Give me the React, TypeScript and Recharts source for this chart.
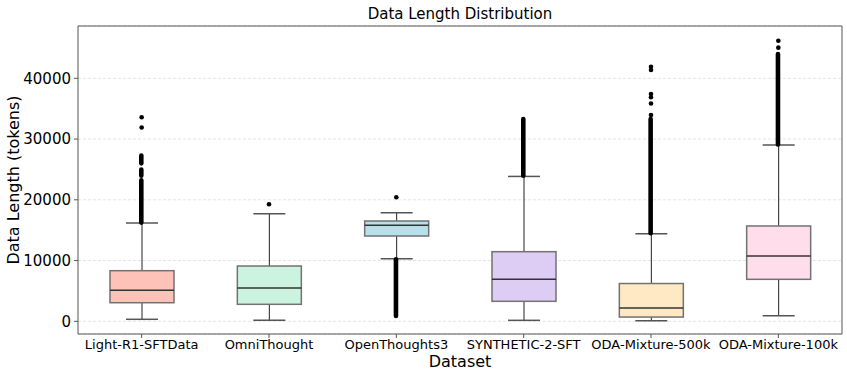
import React from 'react';
import { ComposedChart, Bar, Line, XAxis, YAxis, CartesianGrid, ReferenceArea } from 'recharts';

const categories = ['Light-R1-SFTData', 'OmniThought', 'OpenThoughts3', 'SYNTHETIC-2-SFT', 'ODA-Mixture-500k', 'ODA-Mixture-100k'];
const whiskerLow = [330, 160, 10300, 160, 100, 920];
const q1 = [3060, 2800, 14040, 3290, 700, 6910];
const median = [5100, 5480, 15800, 6910, 2200, 10750];
const q3 = [8330, 9100, 16510, 11460, 6220, 15690];
const whiskerHigh = [16180, 17710, 17880, 23850, 14420, 29020];
const denseOutliersA = [[16250, 23200], null, [870, 10200], [23950, 33300], [14500, 33300], [29100, 44000]];
const denseOutliersB = [[23950, 25000], null, null, null, null, null];
const denseOutliersC = [[26000, 27300], null, null, null, null, null];
const sparseOutliers = [[31900, 33600], [19260], [20410], [], [33960, 35850, 36870, 37410, 41370, 41910], [45050, 46190]];
const yTicks = [0, 10000, 20000, 30000, 40000];
const yDomain = [-2090, 48610];

const BOX_COLORS = ['#FFC2B8', '#CCF2E0', '#B8E0EA', '#DDCDF5', '#FFE9C4', '#FFDDEA'];
const FONT = '"DejaVu Sans", sans-serif';

const data = categories.map((name, i) => {
  const row: any = {
    name,
    box: [q1[i], q3[i]],
    median: median[i],
    whisker: [whiskerLow[i], whiskerHigh[i]],
    denseA: denseOutliersA[i] ?? undefined,
    denseB: denseOutliersB[i] ?? undefined,
    denseC: denseOutliersC[i] ?? undefined,
  };
  for (let k = 0; k < 6; k++) row['o' + k] = sparseOutliers[i][k] ?? null;
  return row;
});

const ok = (p: any) => [p.x, p.y, p.width, p.height].every((v) => Number.isFinite(v));

const BoxShape = (p: any) => {
  if (!ok(p) || !p.payload?.box) return <g />;
  const top = Math.min(p.y, p.y + p.height);
  const h = Math.abs(p.height);
  const [lo, hi] = p.payload.box;
  const my = top + (h * (hi - p.payload.median)) / (hi - lo);
  return (
    <g>
      <rect x={p.x} y={top} width={p.width} height={h} fill={BOX_COLORS[p.index]} stroke="#727272" strokeWidth={1.5} />
      <line x1={p.x} x2={p.x + p.width} y1={my} y2={my} stroke="#333" strokeWidth={1.5} />
    </g>
  );
};

const WhiskerShape = (p: any) => {
  if (!ok(p)) return <g />;
  const top = Math.min(p.y, p.y + p.height);
  const h = Math.abs(p.height);
  const cx = p.x + p.width / 2;
  return (
    <g>
      <line x1={cx} x2={cx} y1={top} y2={top + h} stroke="#222" strokeWidth={1} />
      <line x1={p.x} x2={p.x + p.width} y1={top} y2={top} stroke="#555" strokeWidth={1.5} />
      <line x1={p.x} x2={p.x + p.width} y1={top + h} y2={top + h} stroke="#555" strokeWidth={1.5} />
    </g>
  );
};

const DenseShape = (p: any) => {
  if (!ok(p) || p.height === 0) return <g />;
  const top = Math.min(p.y, p.y + p.height);
  const h = Math.abs(p.height);
  const r = p.width / 2;
  return <rect x={p.x} y={top - r} width={p.width} height={h + 2 * r} rx={r} ry={r} fill="#000" />;
};

const YLabel = (props: any) => {
  const vb = props.viewBox;
  const x = 13;
  const y = vb.y + vb.height / 2;
  return (
    <text x={x} y={y} transform={`rotate(-90, ${x}, ${y})`} textAnchor="middle" dy={5.7} fontSize={16} fill="#000" fontFamily={FONT}>
      Data Length (tokens)
    </text>
  );
};

export default function App() {
  return (
    <div style={{ position: 'absolute', left: 0, top: 0, width: 847, height: 375, background: '#fff' }}>
      <ComposedChart width={847} height={375} data={data} margin={{ top: 26, right: 5, bottom: 0, left: 0 }} style={{ fontFamily: FONT }}>
        <CartesianGrid vertical={false} stroke="#e4e4e4" strokeDasharray="3 2" />
        <XAxis
          dataKey="name"
          type="category"
          height={41}
          axisLine={false}
          tickLine={{ stroke: '#555' }}
          tickSize={4}
          tickMargin={2}
          interval={0}
          tick={{ fontSize: 13, fill: '#000', fontFamily: FONT }}
          label={{ value: 'Dataset', position: 'insideBottom', offset: 8, fontSize: 16, fill: '#000', fontFamily: FONT }}
        />
        <XAxis xAxisId="w" dataKey="name" type="category" hide />
        <XAxis xAxisId="dA" dataKey="name" type="category" hide />
        <XAxis xAxisId="dB" dataKey="name" type="category" hide />
        <XAxis xAxisId="dC" dataKey="name" type="category" hide />
        <YAxis
          type="number"
          domain={yDomain}
          ticks={yTicks}
          allowDataOverflow
          width={78}
          axisLine={false}
          tickLine={{ stroke: '#555' }}
          tickSize={4}
          tickMargin={3}
          tick={{ fontSize: 15, fill: '#000', fontFamily: FONT }}
          label={<YLabel />}
        />
        <Bar xAxisId="w" dataKey="whisker" barSize={32} shape={<WhiskerShape />} isAnimationActive={false} />
        <Bar dataKey="box" barSize={64} shape={<BoxShape />} isAnimationActive={false} />
        <Bar xAxisId="dA" dataKey="denseA" barSize={4.6} shape={<DenseShape />} isAnimationActive={false} />
        <Bar xAxisId="dB" dataKey="denseB" barSize={4.6} shape={<DenseShape />} isAnimationActive={false} />
        <Bar xAxisId="dC" dataKey="denseC" barSize={4.6} shape={<DenseShape />} isAnimationActive={false} />
        {[0, 1, 2, 3, 4, 5].map((k) => (
          <Line
            key={k}
            dataKey={'o' + k}
            stroke="none"
            dot={{ r: 2.3, fill: '#000', stroke: 'none' }}
            activeDot={false}
            isAnimationActive={false}
          />
        ))}
        <ReferenceArea
          y1={yDomain[0]}
          y2={yDomain[1]}
          fill="none"
          stroke="#555"
          strokeWidth={1}
          ifOverflow="visible"
          label={{ value: 'Data Length Distribution', position: 'top', offset: 7, fontSize: 15, fill: '#000', fontFamily: FONT }}
        />
      </ComposedChart>
    </div>
  );
}
